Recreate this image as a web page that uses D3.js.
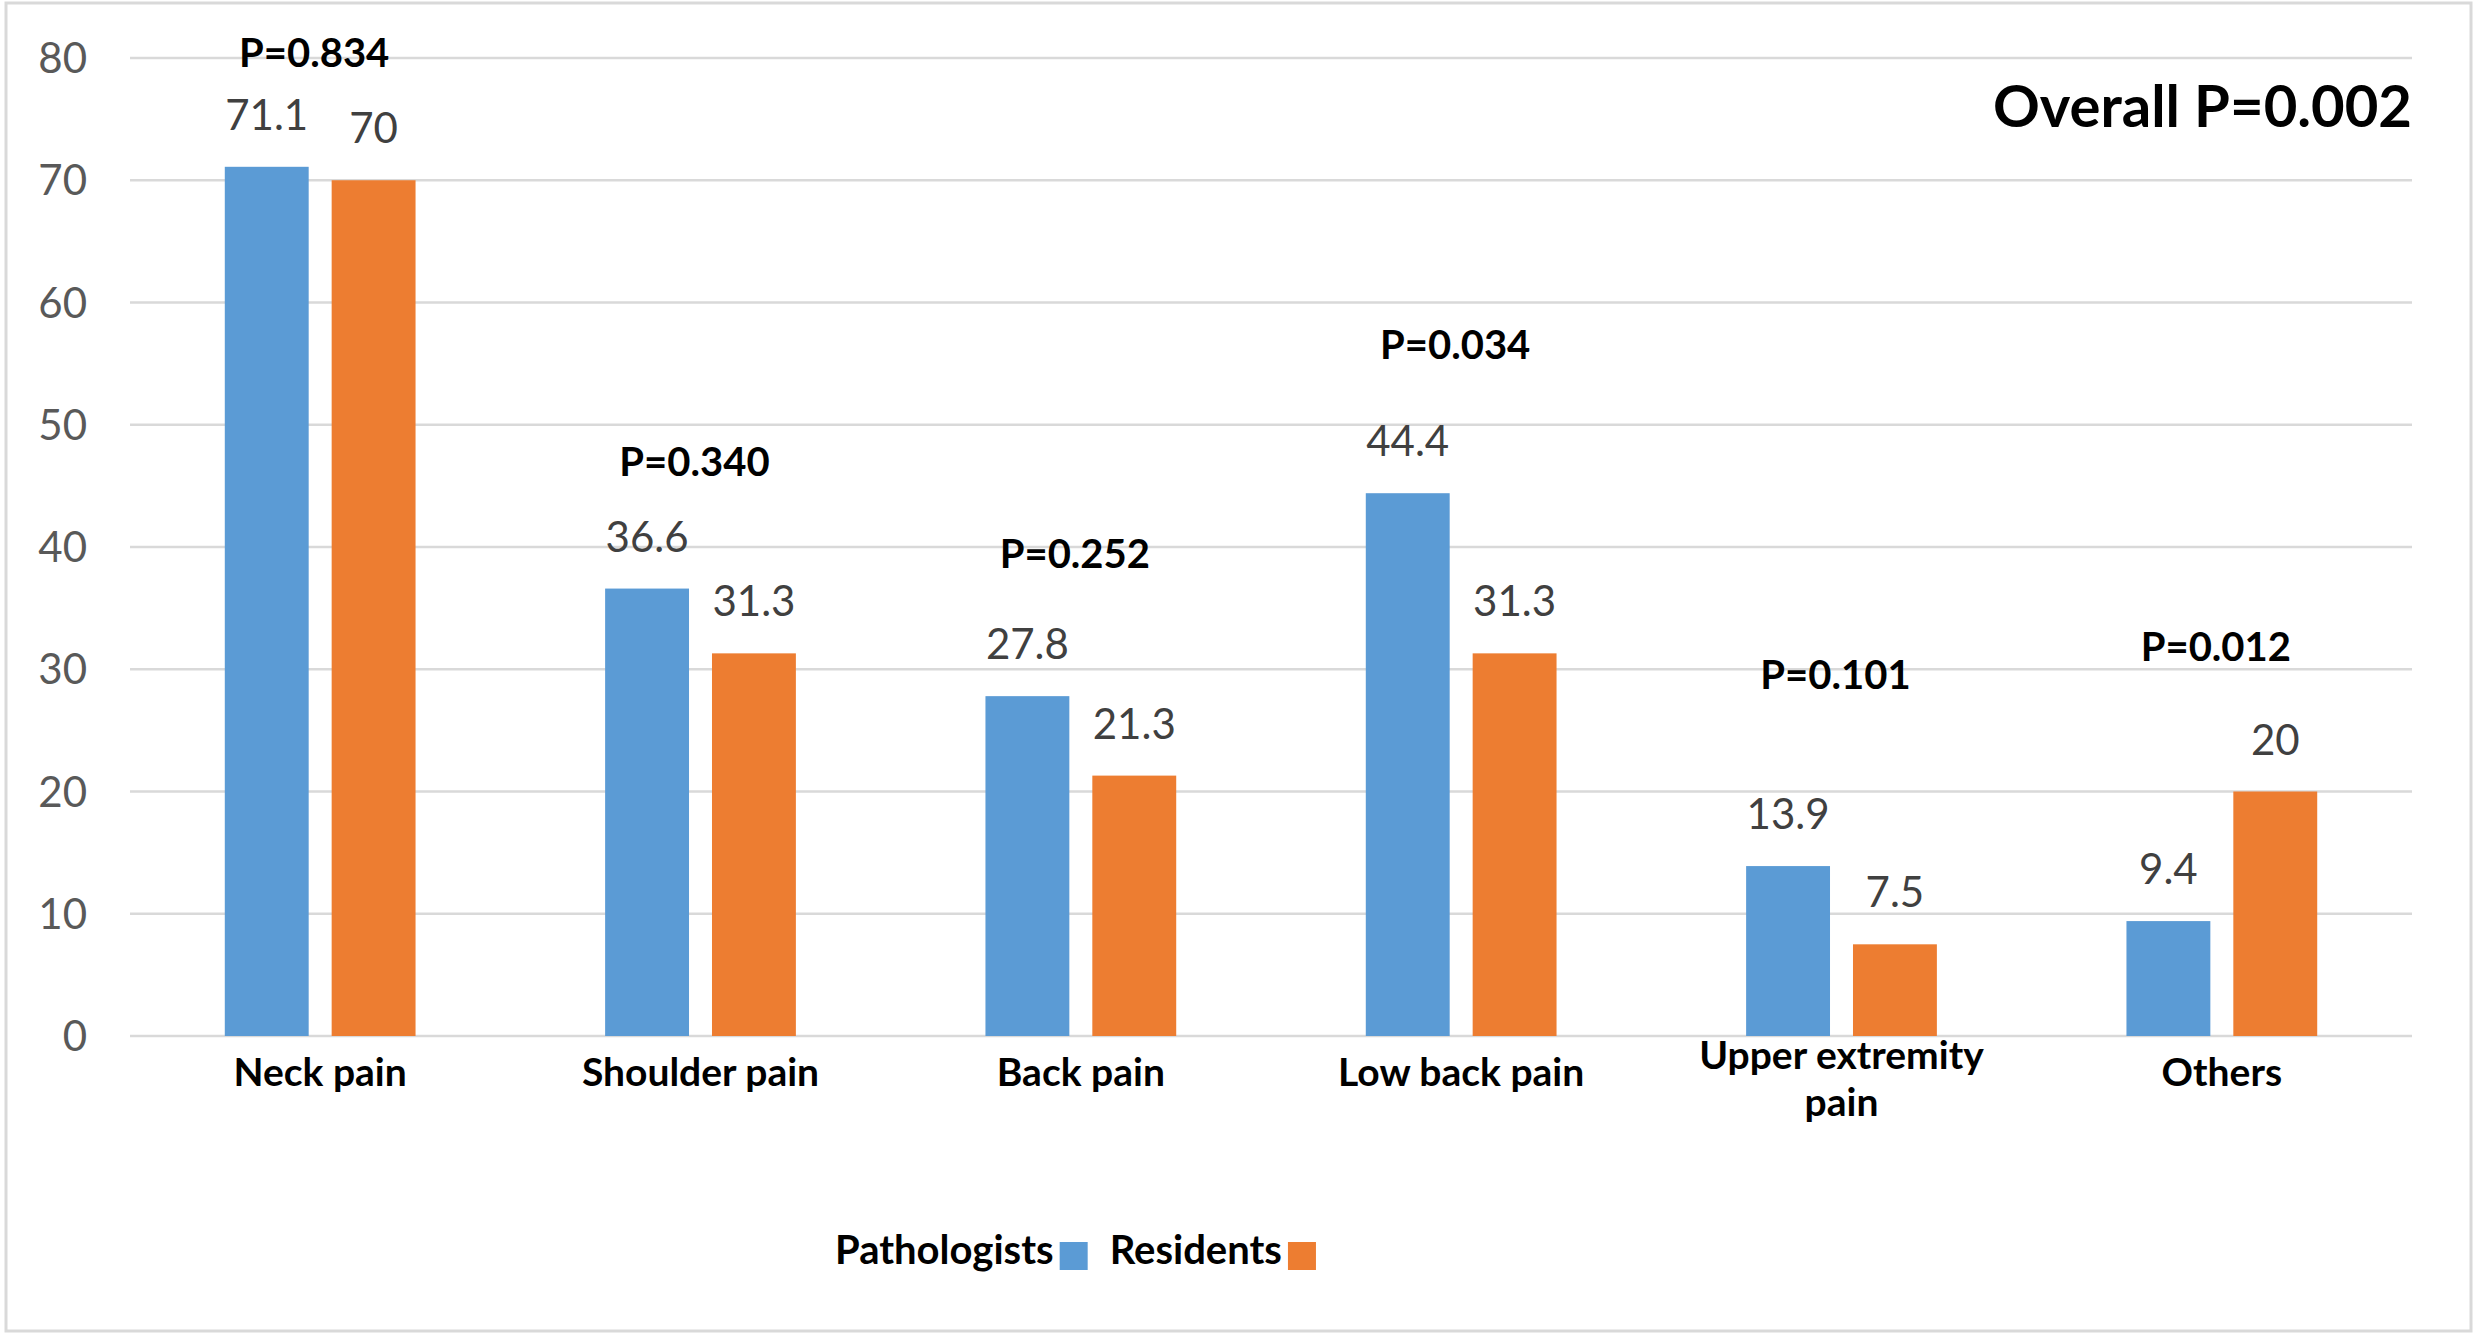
<!DOCTYPE html>
<html>
<head>
<meta charset="utf-8">
<script src="https://cdn.jsdelivr.net/npm/d3@7"></script>
<style>
  body { margin: 0; background: #fff; }
  svg { display: block; font-family: Lato, 'Liberation Sans', sans-serif; }
</style>
</head>
<body>
<svg id="chart" width="2477" height="1341"></svg>
<script>
// data
const categories = ['Neck pain', 'Shoulder pain', 'Back pain', 'Low back pain', 'Upper extremity pain', 'Others'];
const seriesNames = ['Pathologists', 'Residents'];
const pathologists = [71.1, 36.6, 27.8, 44.4, 13.9, 9.4];
const residents = [70, 31.3, 21.3, 31.3, 7.5, 20];
const pLabels = ['P=0.834', 'P=0.340', 'P=0.252', 'P=0.034', 'P=0.101', 'P=0.012'];
const pLevels = [79.3, 45.8, 38.3, 55.4, 28.4, 30.7]; // y value where each P label sits
const yTicks = [0, 10, 20, 30, 40, 50, 60, 70, 80];
const overallLabel = 'Overall P=0.002';

const colors = ['#5B9BD5', '#ED7D31'];

const svg = d3.select('#chart');
const plot = { left: 130, right: 2412, top: 58, bottom: 1036 };

// outer chart border
svg.append('rect')
  .attr('x', 6).attr('y', 3)
  .attr('width', 2465).attr('height', 1328)
  .attr('fill', '#fff')
  .attr('stroke', '#d9d9d9')
  .attr('stroke-width', 3);

const y = d3.scaleLinear().domain([0, 80]).range([plot.bottom, plot.top]);
const x0 = d3.scaleBand().domain(categories).range([plot.left, plot.right]);
const x1 = d3.scaleBand()
  .domain([0, 1])
  .range([0, x0.bandwidth()])
  .paddingInner(0.215)
  .paddingOuter(0.887);

// gridlines
svg.append('g')
  .selectAll('line')
  .data(yTicks)
  .join('line')
  .attr('x1', plot.left)
  .attr('x2', plot.right)
  .attr('y1', (d) => y(d))
  .attr('y2', (d) => y(d))
  .attr('stroke', '#d9d9d9')
  .attr('stroke-width', 2.5);

// y axis labels
svg.append('g')
  .selectAll('text')
  .data(yTicks)
  .join('text')
  .attr('x', 87)
  .attr('y', (d) => y(d))
  .attr('dy', '0.36em')
  .attr('text-anchor', 'end')
  .attr('fill', '#595959')
  .attr('font-size', 42)
  .text((d) => d);

const rows = categories.map((c, i) => ({
  cat: c,
  values: [pathologists[i], residents[i]],
}));

const groups = svg.append('g')
  .selectAll('g')
  .data(rows)
  .join('g')
  .attr('transform', (d) => `translate(${x0(d.cat)},0)`);

groups.selectAll('rect')
  .data((d) => d.values)
  .join('rect')
  .attr('x', (d, i) => x1(i))
  .attr('width', x1.bandwidth())
  .attr('y', (d) => y(d))
  .attr('height', (d) => y(0) - y(d))
  .attr('fill', (d, i) => colors[i]);

// value labels
groups.selectAll('text.val')
  .data((d) => d.values)
  .join('text')
  .attr('class', 'val')
  .attr('x', (d, i) => x1(i) + x1.bandwidth() / 2)
  .attr('y', (d) => y(d) - 37)
  .attr('text-anchor', 'middle')
  .attr('fill', '#404040')
  .attr('font-size', 42)
  .text((d) => d);

// P value per category
svg.append('g')
  .selectAll('text')
  .data(pLabels)
  .join('text')
  .attr('x', (d, i) => x0(categories[i]) + x0.bandwidth() / 2 - 6)
  .attr('y', (d, i) => y(pLevels[i]))
  .attr('text-anchor', 'middle')
  .attr('font-weight', 'bold')
  .attr('font-size', 40)
  .attr('fill', '#000')
  .text((d) => d);

// category labels, wrapped like the original
const wrapped = { 'Upper extremity pain': ['Upper extremity', 'pain'] };
const lineH = 47;
svg.append('g')
  .selectAll('text')
  .data(categories)
  .join('text')
  .attr('text-anchor', 'middle')
  .attr('font-weight', 'bold')
  .attr('font-size', 39)
  .attr('fill', '#000')
  .each(function (d) {
    const lines = wrapped[d] || [d];
    const cx = x0(d) + x0.bandwidth() / 2;
    const base = lines.length > 1 ? 1092 - ((lines.length - 1) * lineH) / 2 : 1086;
    d3.select(this)
      .selectAll('tspan')
      .data(lines)
      .join('tspan')
      .attr('x', cx)
      .attr('y', (l, k) => base + k * lineH)
      .text((l) => l);
  });

// overall P
svg.append('text')
  .attr('x', plot.right)
  .attr('y', 127)
  .attr('text-anchor', 'end')
  .attr('font-weight', 'bold')
  .attr('font-size', 58)
  .attr('fill', '#000')
  .text(overallLabel);

// legend: name first, then the swatch
const legend = svg.append('g').attr('transform', 'translate(835,1264)');
let lx = 0;
seriesNames.forEach((name, i) => {
  const t = legend.append('text')
    .attr('x', lx)
    .attr('y', 0)
    .attr('font-weight', 'bold')
    .attr('font-size', 40)
    .attr('fill', '#000')
    .text(name);
  lx += t.node().getComputedTextLength() + 6;
  legend.append('rect')
    .attr('x', lx)
    .attr('y', -22)
    .attr('width', 28)
    .attr('height', 28)
    .attr('fill', colors[i]);
  lx += 28 + 22;
});
</script>
</body>
</html>
